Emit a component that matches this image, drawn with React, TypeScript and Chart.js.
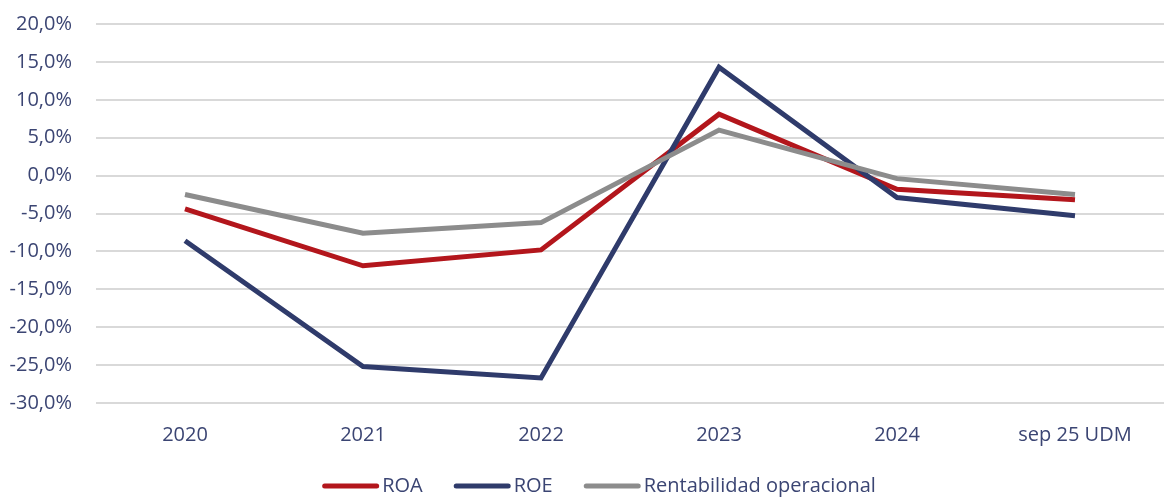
import React, { useEffect, useRef } from "react";
import { Chart, registerables } from "chart.js";

Chart.register(...registerables);

const categories = ["2020", "2021", "2022", "2023", "2024", "sep 25 UDM"];
const roa = [-4.4, -11.9, -9.8, 8.1, -1.8, -3.2];
const roe = [-8.6, -25.2, -26.7, 14.3, -2.9, -5.3];
const rentOp = [-2.5, -7.6, -6.2, 6.0, -0.4, -2.5];
const seriesNames = ["ROA", "ROE", "Rentabilidad operacional"];
const seriesColors = ["#b3161c", "#2f3b6b", "#8c8c8c"];

const TEXT = "#3b4573";
const FONT = "'Open Sans', 'Noto Sans', sans-serif";
const FONT_SIZE = 20;

const legendPlugin = {
  id: "customLegend",
  afterDraw(chart: any) {
    const ctx = chart.ctx;
    const lineW = 57;
    const gapText = 3;
    const gapItem = 31;
    const y = 486;
    ctx.save();
    ctx.font = `${FONT_SIZE}px ${FONT}`;
    const items = chart.data.datasets.map((d: any) => ({
      label: d.label,
      color: d.borderColor,
      w: ctx.measureText(d.label).width,
    }));
    const total =
      items.reduce((s: number, it: any) => s + lineW + gapText + it.w, 0) +
      gapItem * (items.length - 1);
    let x = 599 - total / 2;
    ctx.textBaseline = "middle";
    ctx.textAlign = "left";
    for (const it of items) {
      ctx.strokeStyle = it.color;
      ctx.lineWidth = 5;
      ctx.lineCap = "round";
      ctx.beginPath();
      ctx.moveTo(x + 2.5, y);
      ctx.lineTo(x + lineW - 2.5, y);
      ctx.stroke();
      ctx.fillStyle = TEXT;
      ctx.fillText(it.label, x + lineW + gapText, y);
      x += lineW + gapText + it.w + gapItem;
    }
    ctx.restore();
  },
};

export default function App() {
  const ref = useRef<HTMLCanvasElement | null>(null);
  useEffect(() => {
    document.body.style.margin = "0";
    const ctx = ref.current!;
    const values = [roa, roe, rentOp];
    const chart = new Chart(ctx, {
      type: "line",
      data: {
        labels: categories,
        datasets: values.map((v, i) => ({
          label: seriesNames[i],
          data: v,
          borderColor: seriesColors[i],
          backgroundColor: seriesColors[i],
          borderWidth: 5,
          pointRadius: 0,
          pointHoverRadius: 0,
          tension: 0,
          fill: false,
          order: 3 - i,
        })),
      },
      plugins: [legendPlugin],
      options: {
        animation: false,
        responsive: true,
        maintainAspectRatio: false,
        layout: { padding: { top: 24, right: 0, left: 0, bottom: 31 } },
        plugins: {
          tooltip: { enabled: false },
          legend: { display: false },
        },
        scales: {
          x: {
            offset: true,
            grid: { display: false, drawTicks: false },
            border: { display: false },
            ticks: {
              color: TEXT,
              font: { family: FONT, size: FONT_SIZE },
              padding: 20,
              maxRotation: 0,
              autoSkip: false,
            },
          },
          y: {
            min: -30,
            max: 20,
            afterFit: (s: any) => {
              s.width = 96;
              s.paddingTop = 0;
              s.paddingBottom = 0;
            },
            grid: { color: "#d9d9d9", lineWidth: 2, drawTicks: false },
            border: { display: false },
            ticks: {
              stepSize: 5,
              color: TEXT,
              font: { family: FONT, size: FONT_SIZE },
              padding: 24,
              callback: (v: any) => Number(v).toFixed(1).replace(".", ",") + "%",
            },
          },
        },
      },
    });
    return () => chart.destroy();
  }, []);
  return (
    <div style={{ position: "absolute", left: 0, top: 0, width: 1164, height: 498 }}>
      <canvas ref={ref} />
    </div>
  );
}
